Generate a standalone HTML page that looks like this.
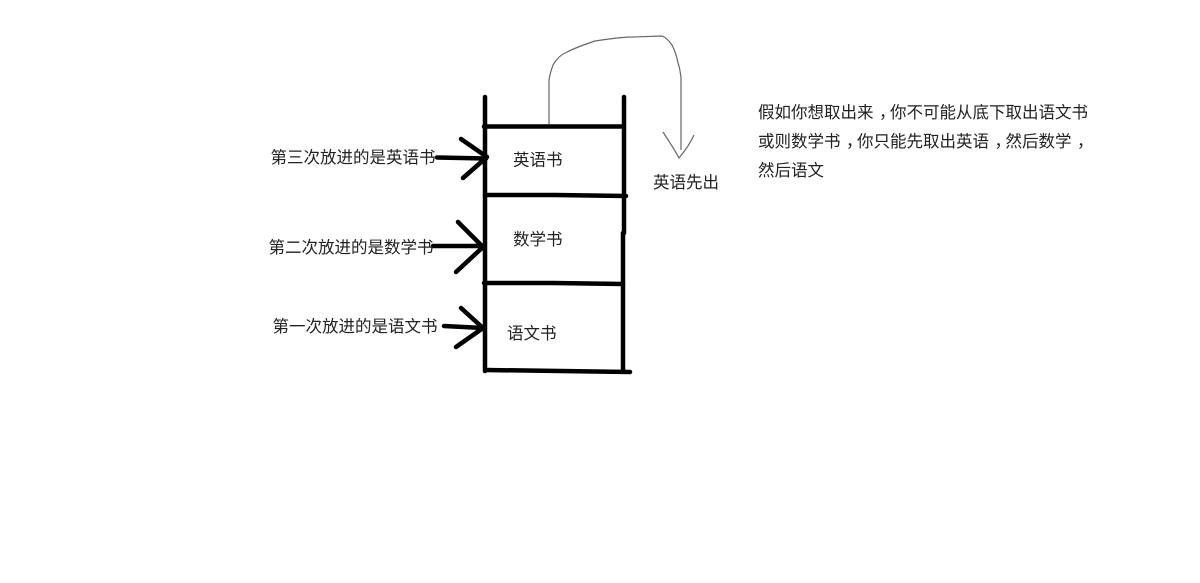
<!DOCTYPE html>
<html lang="zh">
<head>
<meta charset="utf-8">
<style>
html,body{margin:0;padding:0;background:#fff;width:1200px;height:583px;overflow:hidden}
svg{display:block}
text{font-family:"Liberation Sans","Noto Sans CJK SC",sans-serif;font-size:16.5px;fill:#222}
</style>
</head>
<body>
<svg width="1200" height="583" viewBox="0 0 1200 583" xmlns="http://www.w3.org/2000/svg">
<rect width="1200" height="583" fill="#fff"/>
<g stroke="#000" stroke-width="4.500" fill="none" stroke-linecap="round" stroke-linejoin="round">
<path d="M485 97V371"/>
<path d="M624 97V233L623 233V370"/>
<path d="M484 126.500H623"/>
<path d="M485 195H555L626 196"/>
<path d="M484 283H553L623 284"/>
<path d="M486 370L630 372"/>
<path d="M437 157.500L486 158.500"/>
<path d="M461 139L487 157L463 178"/>
<path d="M433 246H483"/>
<path d="M458 222L483 247L456 272"/>
<path d="M444 326L483 328"/>
<path d="M461 308L483 328L456 347"/>
</g>
<path d="M549 124V80C550 73 552 68 553 65C557 58 562 54 567 52C577 47 586 44 595 41C610 39 620 37 633 37L662 36C667 38 670 42 672 45C675 51 677 57 678 63C680 68 680 72 681 77V150" fill="none" stroke="#666" stroke-width="1.200"/>
<path d="M663 132C668 140 675 150 679 158C684 152 690 144 694 135" fill="none" stroke="#666" stroke-width="1.200"/>
<text x="270.500" y="163">第三次放进的是英语书</text>
<text x="268.500" y="253">第二次放进的是数学书</text>
<text x="272.500" y="332">第一次放进的是语文书</text>
<text x="513" y="165.500">英语书</text>
<text x="513" y="245">数学书</text>
<text x="507" y="339">语文书</text>
<text x="653" y="188">英语先出</text>
<text x="758" y="118">假如你想取出来<tspan dx="5.500">，</tspan><tspan dx="-5.500">你不可能从底下取出语文书</tspan></text>
<text x="758" y="147">或则数学书<tspan dx="5.500">，</tspan><tspan dx="-5.500">你只能先取出英语</tspan><tspan dx="5.500">，</tspan><tspan dx="-5.500">然后数学</tspan><tspan dx="5.500">，</tspan></text>
<text x="758" y="176">然后语文</text>
</svg>
</body>
</html>
